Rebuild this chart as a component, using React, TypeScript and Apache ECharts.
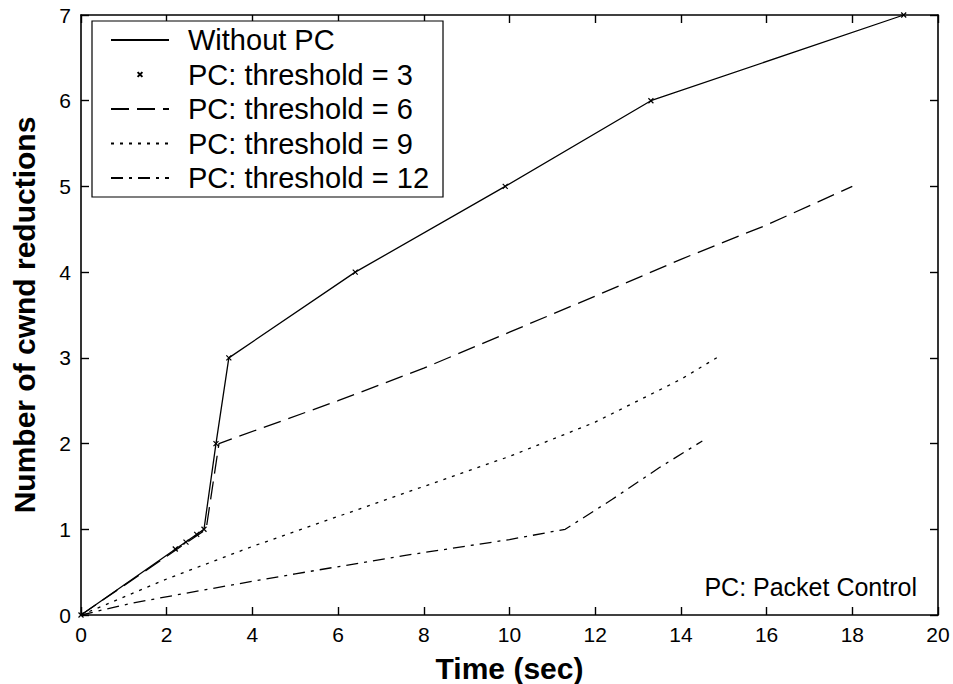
import React, { useEffect, useRef } from "react";
import * as echarts from "echarts";

const seriesNames = [
  "Without PC",
  "PC: threshold = 3",
  "PC: threshold = 6",
  "PC: threshold = 9",
  "PC: threshold = 12",
];

// Without PC (solid)
const withoutPC: [number, number][] = [
  [0, 0], [2.87, 1], [3.15, 2], [3.45, 3], [6.4, 4], [9.9, 5], [13.3, 6], [19.2, 7],
];
// PC threshold = 3 (x markers)
const threshold3: [number, number][] = [
  [0, 0], [2.2, 0.77], [2.45, 0.85], [2.7, 0.94], [2.87, 1], [3.15, 2], [3.45, 3],
  [6.4, 4], [9.9, 5], [13.3, 6], [19.2, 7],
];
// PC threshold = 6 (dashed)
const threshold6: [number, number][] = [
  [0, 0], [2.92, 1], [3.22, 2], [3.6, 2.07], [6, 2.5], [8, 2.88], [10, 3.3],
  [12, 3.72], [14, 4.15], [16, 4.55], [18, 5.0],
];
// PC threshold = 9 (dotted)
const threshold9: [number, number][] = [
  [0, 0], [2, 0.42], [4, 0.8], [6, 1.15], [8, 1.5], [10, 1.85], [12, 2.25],
  [13, 2.5], [14, 2.75], [14.9, 3.02],
];
// PC threshold = 12 (dash-dot)
const threshold12: [number, number][] = [
  [0, 0], [1.2, 0.14], [3.4, 0.34], [5, 0.48], [7.5, 0.69], [10, 0.88],
  [11.3, 1.0], [12.4, 1.35], [13.5, 1.72], [14.5, 2.03],
];

const xTicks = [0, 20, 2];
const yTicks = [0, 7, 1];

const FONT = "'Liberation Sans', Arial, Helvetica, sans-serif";

export default function App() {
  const ref = useRef<HTMLDivElement>(null);
  useEffect(() => {
    if (!ref.current) return;
    const chart = echarts.init(ref.current, null, { renderer: "svg" });
    const axisCommon = {
      type: "value" as const,
      axisLine: { show: true, onZero: false, lineStyle: { color: "#000", width: 1.6 } },
      axisTick: { show: true, inside: true, length: 8, lineStyle: { color: "#000", width: 1.4 } },
      splitLine: { show: false },
    };
    const lineColor = "#000";
    chart.setOption({
      animation: false,
      backgroundColor: "#fff",
      textStyle: { fontFamily: FONT },
      grid: { left: 81, right: 15, top: 15, bottom: 69, containLabel: false, outerBoundsMode: "none" },
      xAxis: [
        {
          ...axisCommon,
          min: xTicks[0], max: xTicks[1], interval: xTicks[2],
          position: "bottom",
          axisLabel: { color: "#000", fontSize: 21, margin: 9, fontFamily: FONT },
          name: "Time (sec)",
          nameLocation: "middle",
          nameGap: 38,
          nameTextStyle: { color: "#000", fontSize: 30, fontWeight: "bold", fontFamily: FONT },
        },
        {
          ...axisCommon,
          min: xTicks[0], max: xTicks[1], interval: xTicks[2],
          position: "top",
          axisLabel: { show: false },
        },
      ],
      yAxis: [
        {
          ...axisCommon,
          min: yTicks[0], max: yTicks[1], interval: yTicks[2],
          position: "left",
          axisLabel: { color: "#000", fontSize: 21, margin: 10, fontFamily: FONT },
          name: "Number of cwnd reductions",
          nameLocation: "middle",
          nameGap: 42,
          nameTextStyle: { color: "#000", fontSize: 30, fontWeight: "bold", fontFamily: FONT },
        },
        {
          ...axisCommon,
          min: yTicks[0], max: yTicks[1], interval: yTicks[2],
          position: "right",
          axisLabel: { show: false },
        },
      ],
      legend: {
        orient: "vertical",
        left: 92,
        top: 21,
        data: seriesNames,
        backgroundColor: "#fff",
        borderColor: "#000",
        borderWidth: 1.2,
        borderRadius: 0,
        padding: [4, 14, 4, 18],
        itemWidth: 58,
        itemHeight: 6,
        itemGap: 4.5,
        selectedMode: false,
        textStyle: { color: "#000", fontSize: 29, lineHeight: 30, fontFamily: FONT, padding: [0, 0, 0, 14] },
      },
      series: [
        {
          name: seriesNames[0],
          type: "line",
          data: withoutPC,
          symbol: "none",
          lineStyle: { color: lineColor, width: 1.3, type: "solid" },
          itemStyle: { color: lineColor, opacity: 0 },
          z: 3,
        },
        {
          name: seriesNames[1],
          type: "line",
          data: threshold3,
          symbol: "path://M0,0L10,10M0,10L10,0",
          symbolSize: 5,
          showAllSymbol: true,
          lineStyle: { width: 0, opacity: 0 },
          itemStyle: { color: "none", borderColor: lineColor, borderWidth: 1.2 },
          z: 4,
        },
        {
          name: seriesNames[2],
          type: "line",
          data: threshold6,
          symbol: "none",
          lineStyle: { color: lineColor, width: 1.3, type: [18, 8] },
          itemStyle: { color: lineColor, opacity: 0 },
        },
        {
          name: seriesNames[3],
          type: "line",
          data: threshold9,
          symbol: "none",
          lineStyle: { color: lineColor, width: 1.3, type: [3, 6] },
          itemStyle: { color: lineColor, opacity: 0 },
        },
        {
          name: seriesNames[4],
          type: "line",
          data: threshold12,
          symbol: "none",
          lineStyle: { color: lineColor, width: 1.3, type: [12, 6, 3, 6] },
          itemStyle: { color: lineColor, opacity: 0 },
        },
      ],
      graphic: [
        {
          type: "text",
          right: 36,
          top: 574,
          style: {
            text: "PC: Packet Control",
            fill: "#000",
            font: `25px ${FONT}`,
          },
        },
      ],
    });
    return () => chart.dispose();
  }, []);
  return (
    <div
      ref={ref}
      style={{ position: "fixed", left: 0, top: 0, width: 953, height: 684, background: "#fff" }}
    />
  );
}
